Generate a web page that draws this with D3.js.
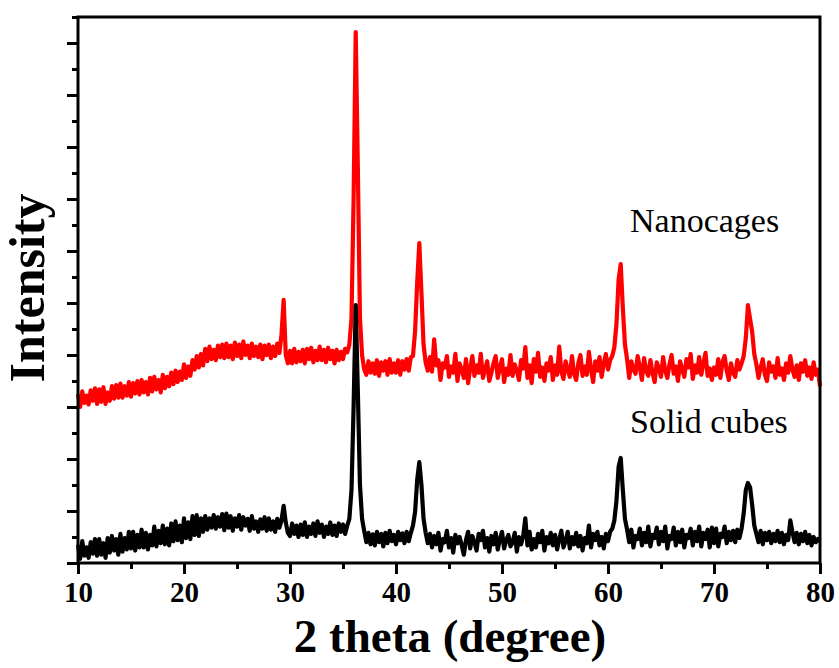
<!DOCTYPE html>
<html lang="en">
<head>
<meta charset="UTF-8" />
<script src="https://d3js.org/d3.v7.min.js"></script>
<title>XRD patterns</title>
<style>
  body { margin: 0; background: #fff; }
  text { font-family: "Liberation Serif", "Times New Roman", serif; }
</style>
</head>
<body>
<script>
// sampling grid: 10 to 80 degrees, every 0.2 degree
var twoTheta = d3.range(0, 351).map(function (i) { return 10 + i * 0.2; });

// one row per degree (.0 .2 .4 .6 .8)
var solidCubes = [
  35, 8, 42, 14, 30,    10, 40, 18, 46, 14,   46, 16, 38, 10, 48,   20, 52, 24, 46, 16,   // 10-13
  56, 22, 48, 26, 60,   28, 60, 24, 54, 30,   64, 30, 58, 26, 54,   34, 70, 32, 62, 38,   // 14-17
  72, 36, 66, 34, 76,   42, 80, 44, 72, 40,   86, 48, 78, 46, 90,   54, 92, 52, 86, 60,   // 18-21
  90, 64, 86, 68, 92,   66, 88, 70, 94, 63,   95, 68, 90, 62, 86,   70, 92, 64, 88, 72,   // 22-25
  85, 62, 90, 66, 80,   60, 84, 66, 88, 62,   86, 64, 80, 60, 85,   68, 82, 110, 78, 58,  // 26-29
  52, 76, 56, 72, 50,   74, 54, 78, 50, 70,   56, 76, 52, 80, 58,   74, 50, 70, 56, 78,   // 30-33
  54, 72, 52, 76, 60,   74, 56, 72, 85, 140,  300, 496, 330, 150, 85, 62, 40, 58, 36, 55,  // 34-37
  34, 60, 40, 56, 32,   58, 38, 62, 42, 54,   36, 60, 44, 57, 38,   60, 42, 58, 72, 98,   // 38-41
  160, 194, 150, 85, 58, 38, 56, 30, 52, 36,  58, 24, 46, 40, 62,   30, 48, 20, 54, 38,   // 42-45
  50, 34, 16, 44, 60,   28, 52, 40, 24, 56,   44, 62, 30, 48, 22,   52, 36, 58, 26, 46,   // 46-49
  60, 28, 44, 54, 32,   40, 58, 22, 50, 36,   52, 86, 34, 60, 26,   46, 30, 56, 40, 62,   // 50-53
  24, 50, 38, 58, 34,   54, 26, 46, 62, 30,   42, 60, 28, 50, 36,   58, 32, 52, 24, 48,   // 54-57
  38, 72, 30, 56, 44,   60, 34, 50, 28, 56,   42, 60, 66, 82, 120,  185, 202, 140, 85, 64, // 58-61
  40, 64, 30, 52, 46,   66, 34, 58, 40, 70,   32, 54, 48, 68, 36,   60, 42, 70, 28, 52,   // 62-65
  46, 68, 34, 60, 40,   64, 30, 54, 48, 66,   34, 60, 42, 70, 32,   58, 46, 64, 30, 68,   // 66-69
  38, 66, 32, 56, 50,   70, 38, 60, 44, 62,   40, 64, 48, 66, 95,   140, 154, 146, 112, 72, // 70-73
  56, 40, 62, 36, 58,   44, 60, 38, 56, 42,   62, 40, 58, 36, 54,   44, 82, 60, 40, 58,   // 74-77
  36, 56, 42, 60, 38,   54, 34, 50, 40, 46,   42                                          // 78-80
];

var nanocages = [
  325, 300, 330, 308, 322,   305, 332, 312, 336, 306,   334, 310, 338, 306, 328,   312, 340, 316, 342, 318,  // 10-13
  345, 318, 340, 322, 348,   320, 346, 326, 350, 324,   352, 328, 348, 324, 356,   330, 358, 334, 352, 328,  // 14-17
  362, 336, 358, 340, 366,   344, 370, 348, 368, 352,   382, 356, 378, 360, 390,   372, 398, 376, 402, 380,  // 18-21
  412, 388, 416, 392, 410,   390, 418, 396, 420, 394,   422, 396, 418, 392, 424,   398, 420, 394, 426, 400,  // 22-25
  418, 394, 422, 398, 416,   396, 420, 392, 418, 400,   420, 394, 416, 398, 422,   404, 440, 506, 400, 384,  // 26-29
  408, 384, 412, 386, 406,   388, 410, 384, 412, 392,   414, 386, 408, 390, 416,   390, 410, 386, 414, 392,  // 30-33
  408, 384, 410, 390, 406,   392, 412, 405, 420, 470,   700, 1021, 760, 470, 400,  372, 362, 388, 366, 384,  // 34-37
  364, 390, 360, 386, 370,   388, 362, 392, 366, 384,   366, 390, 362, 388, 372,   392, 370, 396, 398, 445,  // 38-41
  540, 615, 520, 420, 385,   370, 396, 368, 430, 380,   390, 352, 384, 376, 398,   358, 378, 366, 402, 350,  // 42-45
  384, 372, 356, 392, 346,   374, 398, 360, 380, 366,   402, 356, 372, 388, 350,   366, 384, 398, 356, 376,  // 46-49
  392, 348, 374, 362, 400,   360, 382, 370, 352, 390,   374, 415, 356, 380, 346,   392, 368, 404, 358, 376,  // 50-53
  350, 384, 370, 396, 352,   380, 362, 416, 368, 354,   388, 372, 358, 398, 364,   352, 384, 400, 360, 378,  // 54-57
  362, 406, 372, 348, 388,   370, 396, 358, 384, 402,   372, 390, 398, 415, 460,   545, 575, 490, 420, 392,  // 58-61
  356, 388, 372, 364, 398,   376, 352, 394, 370, 360,   390, 366, 348, 386, 374,   358, 396, 370, 356, 382,  // 62-65
  400, 364, 378, 350, 388,   372, 358, 392, 376, 402,   354, 380, 366, 396, 362,   384, 404, 360, 374, 352,  // 66-69
  376, 362, 392, 356, 386,   398, 370, 352, 384, 366,   358, 390, 372, 384, 398,   432, 496, 470, 445, 402,  // 70-73
  382, 356, 376, 392, 362,   350, 386, 368, 378, 356,   394, 362, 374, 352, 384,   366, 398, 372, 358, 380,  // 74-77
  352, 384, 368, 390, 360,   376, 354, 386, 362, 372,   340                                                   // 78-80
];

var xMajor = [10, 20, 30, 40, 50, 60, 70, 80];
var xMinor = [15, 25, 35, 45, 55, 65, 75];
var yMajor = d3.range(0, 1001, 100);
var yMinor = d3.range(50, 1051, 100);

var labels = [
  { text: "Nanocages", x: 630, y: 232 },
  { text: "Solid cubes", x: 630, y: 433 }
];

var width = 839, height = 668;
var margin = { left: 78, right: 19, top: 17, bottom: 105 };
var w = width - margin.left - margin.right;
var h = height - margin.top - margin.bottom;

var svg = d3.select("body").append("svg")
  .attr("width", width)
  .attr("height", height);

var g = svg.append("g").attr("transform", "translate(" + margin.left + "," + margin.top + ")");

var x = d3.scaleLinear().domain([10, 80]).range([0, w]);
var y = d3.scaleLinear().domain([0, 1050]).range([h, 0]);

var line = d3.line()
  .x(function (d) { return x(d[0]); })
  .y(function (d) { return y(d[1]); });

// red first, black drawn on top
g.append("path")
  .datum(d3.zip(twoTheta, nanocages))
  .attr("d", line)
  .attr("fill", "none")
  .attr("stroke", "#ff0000")
  .attr("stroke-width", 4.2)
  .attr("stroke-linejoin", "round");

g.append("path")
  .datum(d3.zip(twoTheta, solidCubes))
  .attr("d", line)
  .attr("fill", "none")
  .attr("stroke", "#000")
  .attr("stroke-width", 4.2)
  .attr("stroke-linejoin", "round");

// axes
var xAxis = g.append("g").attr("transform", "translate(0," + h + ")")
  .call(d3.axisBottom(x).tickValues(xMajor).tickSize(11).tickSizeOuter(0).tickPadding(7));
var xAxisMinor = g.append("g").attr("transform", "translate(0," + h + ")")
  .call(d3.axisBottom(x).tickValues(xMinor).tickSize(6).tickSizeOuter(0).tickFormat(""));
var yAxis = g.append("g")
  .call(d3.axisLeft(y).tickValues(yMajor).tickSize(11).tickSizeOuter(0).tickFormat(""));
var yAxisMinor = g.append("g")
  .call(d3.axisLeft(y).tickValues(yMinor).tickSize(6).tickSizeOuter(0).tickFormat(""));

[xAxis, xAxisMinor, yAxis, yAxisMinor].forEach(function (a) {
  a.select(".domain").remove();
  a.selectAll("line").attr("stroke", "#000").attr("stroke-width", 3);
});

xAxis.selectAll("text")
  .attr("fill", "#000")
  .style("font-family", "'Liberation Serif', serif")
  .style("font-size", "29px")
  .style("font-weight", "bold");

// frame
g.append("rect")
  .attr("width", w)
  .attr("height", h)
  .attr("fill", "none")
  .attr("stroke", "#000")
  .attr("stroke-width", 3);

// titles
svg.append("text")
  .attr("x", 450)
  .attr("y", 652)
  .attr("text-anchor", "middle")
  .style("font-size", "47px")
  .style("font-weight", "bold")
  .text("2 theta (degree)");

svg.append("text")
  .attr("transform", "translate(44,288) rotate(-90)")
  .attr("text-anchor", "middle")
  .style("font-size", "50px")
  .style("font-weight", "bold")
  .text("Intensity");

svg.selectAll(".series-label").data(labels)
  .enter().append("text")
  .attr("class", "series-label")
  .attr("x", function (d) { return d.x; })
  .attr("y", function (d) { return d.y; })
  .style("font-size", "34px")
  .text(function (d) { return d.text; });
</script>
</body>
</html>
